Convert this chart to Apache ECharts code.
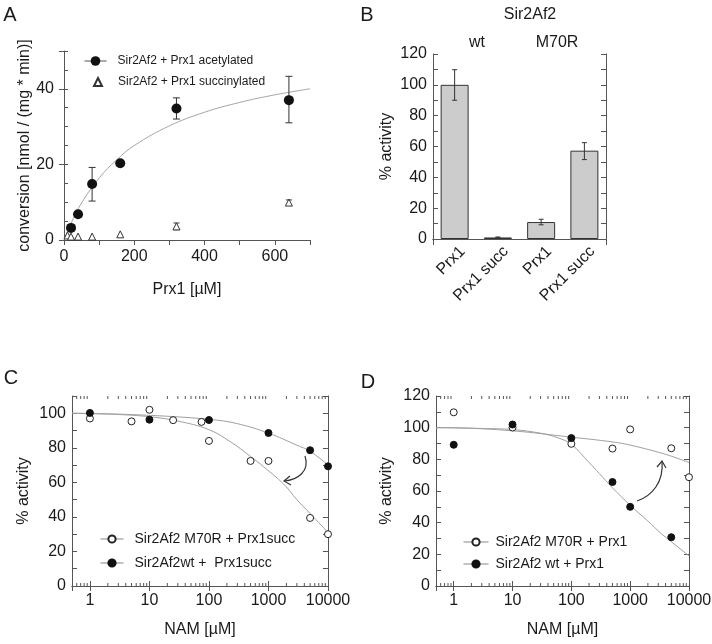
<!DOCTYPE html>
<html><head><meta charset="utf-8">
<script src="https://cdn.jsdelivr.net/npm/echarts@6/dist/echarts.min.js"></script>
<style>html,body{margin:0;padding:0;background:#fff}#c{width:712px;height:644px}</style>
</head><body><div id="c"></div>
<script>
// ---------- Panel A ----------
const aAcetylConc = [20, 40, 80, 160, 320, 640];
const aAcetyl     = [3.2, 6.8, 14.8, 20.3, 34.8, 37.0];
const aAcetylLow  = [null, null, 10.3, 19.6, 32.0, 31.0];
const aAcetylHigh = [null, null, 19.2, 21.0, 37.6, 43.3];
const aSuccConc = [10, 20, 40, 80, 160, 320, 640];
const aSucc     = [1.2, 0.9, 0.9, 0.9, 1.5, 3.6, 9.9];
const aSuccLow  = [null, null, null, null, null, 2.7, 9.2];
const aSuccHigh = [null, null, null, null, null, 4.5, 10.6];
const aFitX = [0, 20, 50, 100, 150, 200, 300, 400, 500, 600, 700];
const aFitY = [0, 4.4, 9.8, 16.4, 21.2, 25.0, 30.2, 33.8, 36.4, 38.4, 40.0];
const aXTicks = [0, 200, 400, 600];
const aYTicks = [0, 20, 40];
// ---------- Panel B ----------
const bKeys   = ['wt Prx1', 'wt Prx1 succ', 'M70R Prx1', 'M70R Prx1 succ'];
const bLabels = ['Prx1', 'Prx1 succ', 'Prx1', 'Prx1 succ'];
const bValues = [100, 1, 11, 57.3];
const bLow    = [90, 0.7, 9.2, 51.5];
const bHigh   = [109.8, 1.3, 12.8, 62.5];
// ---------- Panel C ----------
const cM70RConc = [1, 5, 10, 25, 75, 100, 500, 1000, 5000, 10000];
const cM70R     = [97, 95.3, 102, 96, 95, 84, 72.4, 72.4, 39.4, 30];
const cWtConc   = [1, 10, 100, 1000, 5000, 10000];
const cWt       = [100.2, 96.3, 96.1, 88.6, 78.6, 69.3];
const cFitM70RX = [0.5, 1, 3, 10, 30, 100, 230, 500, 830, 1800, 3000, 5000, 10000];
const cFitM70RY = [100, 99.8, 99.3, 98, 95.5, 90.5, 83.5, 75, 69, 59, 50, 42, 31];
const cFitWtX   = [0.5, 1, 10, 100, 300, 1000, 3000, 5000, 10000];
const cFitWtY   = [100, 99.9, 98.8, 96.5, 94, 88.5, 81.5, 78, 70];
// ---------- Panel D ----------
const dM70RConc = [1, 10, 100, 500, 1000, 5000, 10000];
const dM70R     = [109.7, 100.1, 89.8, 86.8, 98.9, 87, 68.7];
const dWtConc   = [1, 10, 100, 500, 1000, 5000];
const dWt       = [89.2, 102, 93.4, 65.7, 50, 30.8];
const dFitWtX   = [0.5, 1, 3, 10, 30, 60, 100, 200, 300, 500, 1000, 2000, 3400, 5000, 10000];
const dFitWtY   = [100, 99.9, 99.5, 98.8, 96.5, 93.5, 89.5, 78, 71, 62, 51, 41, 33, 28, 19];
const dFitM70RX = [0.5, 1, 10, 100, 500, 1000, 3000, 5000, 10000];
const dFitM70RY = [100, 99.9, 98, 94, 91, 89, 84.5, 82, 78];
// log-axis decade labels and minor tick values
const logLabels = [1, 10, 100, 1000, 10000];
const logMinorTicks = [0.6, 0.7, 0.8, 0.9,
  2, 3, 4, 5, 6, 7, 8, 9,
  20, 30, 40, 50, 60, 70, 80, 90,
  200, 300, 400, 500, 600, 700, 800, 900,
  2000, 3000, 4000, 5000, 6000, 7000, 8000, 9000];

const FONT = "'Liberation Sans', Arial, Helvetica, sans-serif";
const TXT = '#1a1a1a';
const AX = '#555';

const zip = (xs, ys) => xs.map((x, i) => [x, ys[i]]);
const errData = (xs, lo, hi) => xs.map((x, i) => [x, lo[i], hi[i]]).filter(d => d[1] != null);

function errRender(cap) {
  return function (params, api) {
    const x = api.value(0), lo = api.value(1), hi = api.value(2);
    const p1 = api.coord([x, lo]), p2 = api.coord([x, hi]);
    const st = { stroke: '#333', lineWidth: 1 };
    return { type: 'group', children: [
      { type: 'line', shape: { x1: p1[0], y1: p1[1], x2: p2[0], y2: p2[1] }, style: st },
      { type: 'line', shape: { x1: p1[0] - cap / 2, y1: p1[1], x2: p1[0] + cap / 2, y2: p1[1] }, style: st },
      { type: 'line', shape: { x1: p2[0] - cap / 2, y1: p2[1], x2: p2[0] + cap / 2, y2: p2[1] }, style: st }
    ]};
  };
}
function minorRender(params, api) {
  const v = api.value(0);
  const pb = api.coord([v, api.value(1)]), pt = api.coord([v, api.value(2)]);
  const st = { stroke: AX, lineWidth: 1 };
  return { type: 'group', children: [
    { type: 'line', shape: { x1: pb[0], y1: pb[1], x2: pb[0], y2: pb[1] - 3 }, style: st },
    { type: 'line', shape: { x1: pt[0], y1: pt[1], x2: pt[0], y2: pt[1] + 3 }, style: st }
  ]};
}
function catLabelRender(params, api) {
  const p = api.coord([api.value(0), 0]);
  return { type: 'text', x: p[0] + 8, y: p[1] + 10, rotation: Math.PI / 4,
    style: { text: bLabels[params.dataIndex], fill: TXT, font: '16px ' + FONT, align: 'right', verticalAlign: 'middle' } };
}
const logFmt = v => logLabels.some(t => Math.abs(t - v) < 1e-6) ? String(Math.round(v)) : '';
const every20 = v => (Math.round(v) % 20 === 0) ? String(Math.round(v)) : '';

const axisLine = { show: true, lineStyle: { color: AX, width: 1 } };
const lbl = (extra) => Object.assign({ color: TXT, fontSize: 16, fontFamily: FONT }, extra || {});
const nameStyle = { color: TXT, fontSize: 16, fontFamily: FONT };

function logX(grid, pos, showLabels, name) {
  return {
    type: 'log', gridIndex: grid, position: pos, min: 0.5, max: 10000, logBase: 10,
    axisLine: axisLine, splitLine: { show: false },
    axisTick: { show: true, inside: true, length: 5, lineStyle: { color: AX } },
    axisLabel: showLabels ? lbl({ formatter: logFmt, margin: 7, showMinLabel: true, showMaxLabel: true, hideOverlap: false }) : { show: false },
    name: name || '', nameLocation: 'middle', nameGap: 36, nameTextStyle: nameStyle
  };
}
function pctY(grid, pos, max, showLabels, name, gap) {
  return {
    type: 'value', gridIndex: grid, position: pos, min: 0, max: max, interval: 10,
    axisLine: axisLine, splitLine: { show: false },
    axisTick: { show: true, inside: true, length: 5, lineStyle: { color: AX } },
    axisLabel: showLabels ? lbl({ formatter: every20, margin: 6, showMaxLabel: true }) : { show: false },
    name: name || '', nameLocation: 'middle', nameGap: gap || 40, nameTextStyle: nameStyle
  };
}

const chart = echarts.init(document.getElementById('c'), null, { renderer: 'canvas' });

const option = {
  animation: false,
  backgroundColor: '#fff',
  textStyle: { fontFamily: FONT, color: TXT },
  grid: [
    { left: 64, top: 51, width: 246, height: 189, outerBoundsMode: 'none', containLabel: false },
    { left: 433, top: 54, width: 173, height: 185, outerBoundsMode: 'none', containLabel: false },
    { left: 72, top: 396, width: 256, height: 190, outerBoundsMode: 'none', containLabel: false },
    { left: 436, top: 396, width: 253, height: 190, outerBoundsMode: 'none', containLabel: false }
  ],
  xAxis: [
    { type: 'value', gridIndex: 0, min: 0, max: 700, interval: 100,
      axisLine: axisLine, splitLine: { show: false },
      axisTick: { show: true, inside: false, length: 5, lineStyle: { color: AX } },
      axisLabel: lbl({ margin: 9, formatter: v => aXTicks.includes(v) ? String(v) : '' }),
      name: 'Prx1 [µM]', nameLocation: 'middle', nameGap: 42, nameTextStyle: nameStyle },
    { type: 'category', gridIndex: 1, position: 'bottom', data: bKeys, boundaryGap: true,
      axisLine: axisLine,
      axisTick: { show: true, inside: true, length: 6, alignWithLabel: false, interval: (i) => i === 2, lineStyle: { color: AX } },
      axisLabel: { show: false } },
    { type: 'category', gridIndex: 1, position: 'top', data: bKeys, boundaryGap: true,
      axisLine: axisLine,
      axisTick: { show: true, inside: true, length: 6, alignWithLabel: false, interval: (i) => i === 2, lineStyle: { color: AX } },
      axisLabel: { show: false } },
    logX(2, 'bottom', true, 'NAM [µM]'),
    logX(2, 'top', false),
    logX(3, 'bottom', true, 'NAM [µM]'),
    logX(3, 'top', false)
  ],
  yAxis: [
    { type: 'value', gridIndex: 0, position: 'left', min: 0, max: 50, interval: 20,
      axisLine: axisLine, splitLine: { show: false },
      axisTick: { show: true, inside: false, length: 5, lineStyle: { color: AX } },
      axisLabel: lbl({ margin: 10, formatter: v => aYTicks.includes(v) ? String(v) : '' }),
      name: 'conversion [nmol / (mg * min)]', nameLocation: 'middle', nameGap: 28, nameTextStyle: nameStyle },
    { type: 'value', gridIndex: 0, position: 'left', offset: 0, min: 0, max: 50, interval: 5,
      axisLine: { show: false }, splitLine: { show: false },
      axisTick: { show: true, inside: true, length: 4, lineStyle: { color: AX } },
      axisLabel: { show: false } },
    pctY(1, 'left', 120, true, '% activity', 38),
    pctY(1, 'right', 120, false),
    pctY(2, 'left', 110, true, '% activity', 40),
    pctY(2, 'right', 110, false),
    pctY(3, 'left', 120, true, '% activity', 41),
    pctY(3, 'right', 120, false)
  ],
  legend: [
    { data: ['Sir2Af2 + Prx1 acetylated'], orient: 'vertical', left: 79, top: 50,
      itemWidth: 22, itemHeight: 12, textStyle: { fontSize: 12, color: TXT, fontFamily: FONT, padding: [0, 0, 0, 6] },
      lineStyle: { color: '#555', width: 1, opacity: 1 }, selectedMode: false },
    { data: ['Sir2Af2 + Prx1 succinylated'], orient: 'vertical', left: 88, top: 71,
      itemWidth: 8, itemHeight: 8, textStyle: { fontSize: 12, color: TXT, fontFamily: FONT, padding: [0, 0, 0, 11] },
      selectedMode: false },
    { data: ['Sir2Af2 M70R + Prx1succ', 'Sir2Af2wt +  Prx1succ'], orient: 'vertical', left: 95, top: 527,
      itemWidth: 23, itemHeight: 9, itemGap: 10, textStyle: { fontSize: 14, color: TXT, fontFamily: FONT, padding: [0, 0, 0, 6] },
      lineStyle: { color: '#888', width: 1, opacity: 1 }, selectedMode: false },
    { data: ['Sir2Af2 M70R + Prx1', 'Sir2Af2 wt + Prx1'], orient: 'vertical', left: 458, top: 530,
      itemWidth: 25, itemHeight: 9, itemGap: 8, textStyle: { fontSize: 14, color: TXT, fontFamily: FONT, padding: [0, 0, 0, 2] },
      lineStyle: { color: '#888', width: 1, opacity: 1 }, selectedMode: false }
  ],
  series: [
    // ---- A ----
    { type: 'line', xAxisIndex: 0, yAxisIndex: 0, data: zip(aFitX, aFitY), smooth: 0.4, symbol: 'none',
      lineStyle: { color: '#a5a5a5', width: 1 }, silent: true, z: 2 },
    { type: 'custom', xAxisIndex: 0, yAxisIndex: 0, renderItem: errRender(7), data: errData(aAcetylConc, aAcetylLow, aAcetylHigh), encode: { x: 0, y: [1, 2] }, silent: true, z: 3 },
    { type: 'custom', xAxisIndex: 0, yAxisIndex: 0, renderItem: errRender(6), data: errData(aSuccConc, aSuccLow, aSuccHigh), encode: { x: 0, y: [1, 2] }, silent: true, z: 3 },
    { name: 'Sir2Af2 + Prx1 acetylated', type: 'line', xAxisIndex: 0, yAxisIndex: 0, data: zip(aAcetylConc, aAcetyl),
      symbol: 'circle', symbolSize: 10, showAllSymbol: true, itemStyle: { color: '#111', borderColor: '#111', borderWidth: 0 },
      lineStyle: { opacity: 0, width: 1, color: '#555' }, z: 5 },
    { name: 'Sir2Af2 + Prx1 succinylated', type: 'scatter', xAxisIndex: 0, yAxisIndex: 0, data: zip(aSuccConc, aSucc),
      symbol: 'triangle', symbolSize: 7, itemStyle: { color: '#fff', borderColor: '#333', borderWidth: 1, opacity: 1 }, z: 5 },
    // ---- B ----
    { type: 'bar', xAxisIndex: 1, yAxisIndex: 2, data: bValues, barWidth: 28,
      itemStyle: { color: '#cccccc', borderColor: '#333', borderWidth: 1 }, silent: true, z: 2 },
    { type: 'custom', xAxisIndex: 1, yAxisIndex: 2, renderItem: errRender(5), data: errData([0, 1, 2, 3], bLow, bHigh), encode: { x: 0, y: [1, 2] }, silent: true, z: 4 },
    { type: 'custom', xAxisIndex: 1, yAxisIndex: 2, renderItem: catLabelRender, data: [0, 1, 2, 3].map(i => [i, 0]), encode: { x: 0, y: 1 }, silent: true, clip: false, z: 4 },
    // ---- C ----
    { type: 'custom', xAxisIndex: 3, yAxisIndex: 4, renderItem: minorRender, data: logMinorTicks.map(v => [v, 0, 110]), encode: { x: 0, y: [1, 2] }, silent: true, z: 1 },
    { type: 'line', xAxisIndex: 3, yAxisIndex: 4, data: zip(cFitM70RX, cFitM70RY), smooth: 0.4, symbol: 'none', lineStyle: { color: '#a0a0a0', width: 1 }, silent: true, z: 2 },
    { type: 'line', xAxisIndex: 3, yAxisIndex: 4, data: zip(cFitWtX, cFitWtY), smooth: 0.4, symbol: 'none', lineStyle: { color: '#a0a0a0', width: 1 }, silent: true, z: 2 },
    { name: 'Sir2Af2 M70R + Prx1succ', type: 'line', xAxisIndex: 3, yAxisIndex: 4, data: zip(cM70RConc, cM70R),
      symbol: 'circle', symbolSize: 7, showAllSymbol: true, itemStyle: { color: '#fff', borderColor: '#222', borderWidth: 1 },
      lineStyle: { opacity: 0, width: 1, color: '#888' }, z: 5 },
    { name: 'Sir2Af2wt +  Prx1succ', type: 'line', xAxisIndex: 3, yAxisIndex: 4, data: zip(cWtConc, cWt),
      symbol: 'circle', symbolSize: 7, showAllSymbol: true, itemStyle: { color: '#111', borderColor: '#111', borderWidth: 1 },
      lineStyle: { opacity: 0, width: 1, color: '#888' }, z: 5 },
    // ---- D ----
    { type: 'custom', xAxisIndex: 5, yAxisIndex: 6, renderItem: minorRender, data: logMinorTicks.map(v => [v, 0, 120]), encode: { x: 0, y: [1, 2] }, silent: true, z: 1 },
    { type: 'line', xAxisIndex: 5, yAxisIndex: 6, data: zip(dFitWtX, dFitWtY), smooth: 0.4, symbol: 'none', lineStyle: { color: '#a0a0a0', width: 1 }, silent: true, z: 2 },
    { type: 'line', xAxisIndex: 5, yAxisIndex: 6, data: zip(dFitM70RX, dFitM70RY), smooth: 0.4, symbol: 'none', lineStyle: { color: '#a0a0a0', width: 1 }, silent: true, z: 2 },
    { name: 'Sir2Af2 M70R + Prx1', type: 'line', xAxisIndex: 5, yAxisIndex: 6, data: zip(dM70RConc, dM70R),
      symbol: 'circle', symbolSize: 7, showAllSymbol: true, itemStyle: { color: '#fff', borderColor: '#222', borderWidth: 1 },
      lineStyle: { opacity: 0, width: 1, color: '#888' }, z: 5 },
    { name: 'Sir2Af2 wt + Prx1', type: 'line', xAxisIndex: 5, yAxisIndex: 6, data: zip(dWtConc, dWt),
      symbol: 'circle', symbolSize: 7, showAllSymbol: true, itemStyle: { color: '#111', borderColor: '#111', borderWidth: 1 },
      lineStyle: { opacity: 0, width: 1, color: '#888' }, z: 5 }
  ],
  graphic: [
    { type: 'text', x: 10, y: 15, style: { text: 'A', font: '20px ' + FONT, fill: TXT, align: 'center', verticalAlign: 'middle' } },
    { type: 'text', x: 367, y: 15, style: { text: 'B', font: '20px ' + FONT, fill: TXT, align: 'center', verticalAlign: 'middle' } },
    { type: 'text', x: 11, y: 378, style: { text: 'C', font: '20px ' + FONT, fill: TXT, align: 'center', verticalAlign: 'middle' } },
    { type: 'text', x: 368, y: 382, style: { text: 'D', font: '20px ' + FONT, fill: TXT, align: 'center', verticalAlign: 'middle' } },
    { type: 'text', x: 530, y: 15, style: { text: 'Sir2Af2', font: '16px ' + FONT, fill: TXT, align: 'center', verticalAlign: 'middle' } },
    { type: 'text', x: 477, y: 43, style: { text: 'wt', font: '16px ' + FONT, fill: TXT, align: 'center', verticalAlign: 'middle' } },
    { type: 'text', x: 557, y: 43, style: { text: 'M70R', font: '16px ' + FONT, fill: TXT, align: 'center', verticalAlign: 'middle' } },
    // arrow C
    { type: 'bezierCurve', shape: { x1: 305, y1: 456, cpx1: 310, cpy1: 471, cpx2: 298, cpy2: 480, x2: 284, y2: 481 },
      style: { stroke: '#333', lineWidth: 1.2, fill: null } },
    { type: 'polyline', shape: { points: [[290, 476], [284, 481], [291, 485]] }, style: { stroke: '#333', lineWidth: 1.2, fill: null } },
    // arrow D
    { type: 'bezierCurve', shape: { x1: 637, y1: 501, cpx1: 652, cpy1: 496, cpx2: 664, cpy2: 482, x2: 662, y2: 461 },
      style: { stroke: '#333', lineWidth: 1.2, fill: null } },
    { type: 'polyline', shape: { points: [[657, 467], [662, 461], [666, 468]] }, style: { stroke: '#333', lineWidth: 1.2, fill: null } }
  ]
};
chart.setOption(option);
</script>
</body></html>
